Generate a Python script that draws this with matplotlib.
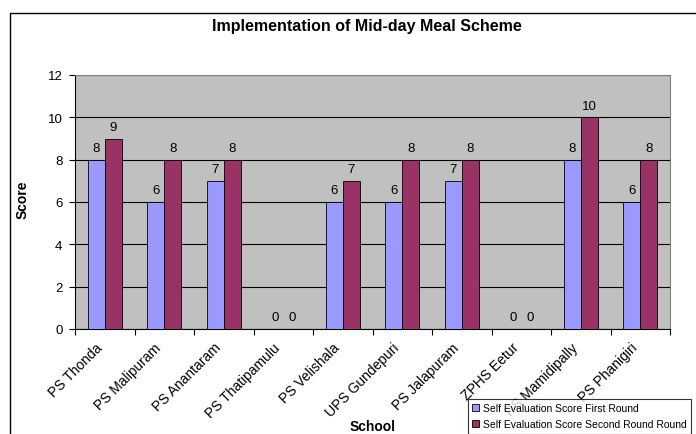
import matplotlib
matplotlib.use("Agg")
import matplotlib.pyplot as plt
import matplotlib.patches as mpatches
import matplotlib.transforms as mtransforms
import numpy as np

plt.rcParams['font.family'] = ['Liberation Sans', 'DejaVu Sans']

schools = ["PS Thonda", "PS Malipuram", "PS Anantaram", "PS Thatipamulu", "PS Velishala",
           "UPS Gundepuri", "PS Jalapuram", "ZPHS Eetur", "PS Mamidipally", "PS Phanigiri"]
first_round = [8, 6, 7, 0, 6, 6, 7, 0, 8, 6]
second_round = [9, 8, 8, 0, 7, 8, 8, 0, 10, 8]
series_names = ["Self Evaluation Score First Round", "Self Evaluation Score Second Round Round"]
yticks = [0, 2, 4, 6, 8, 10, 12]

W, H = 696, 435
fig = plt.figure(figsize=(W / 100, H / 100), dpi=100)

# outer chart frame
fig.patches.append(mpatches.Rectangle((10 / W, -0.1), 1.0, 1 - 14 / H + 0.1, transform=fig.transFigure,
                                      fill=False, edgecolor='black', linewidth=1.0, clip_on=False))

ax = fig.add_axes([75 / W, 1 - 330 / H, (670 - 75) / W, (330 - 76) / H])
ax.set_facecolor('#C0C0C0')

x = np.arange(len(schools))
w = 0.2857
b1 = ax.bar(x - w / 2, first_round, w, color='#9999FF', edgecolor='black', linewidth=0.6,
            label=series_names[0], zorder=3)
b2 = ax.bar(x + w / 2, second_round, w, color='#993366', edgecolor='black', linewidth=0.6,
            label=series_names[1], zorder=3)

for bars, vals in ((b1, first_round), (b2, second_round)):
    for r, v in zip(bars, vals):
        ax.annotate(str(v), (r.get_x() + r.get_width() / 2, v), xytext=(0, 4),
                    textcoords='offset points', ha='center', va='bottom', fontsize=9.5)

ax.set_xlim(-0.5, len(schools) - 0.5)
ax.set_ylim(0, 12)
ax.set_yticks(yticks)
ax.yaxis.grid(True, color='black', linewidth=0.8, zorder=0)
ax.set_axisbelow(True)
ax.set_xticks(np.arange(-0.5, len(schools), 1.0))
ax.set_xticklabels([])
ax.tick_params(axis='x', length=4, direction='out')
ax.tick_params(axis='y', length=4, direction='out', labelsize=9.5, pad=5)

# category labels, rotated
lab_tr = ax.get_xaxis_transform() + mtransforms.ScaledTranslation(-5 / 100, -16 / 100, fig.dpi_scale_trans)
for xi, name in zip(x, schools):
    ax.text(xi, 0, name, transform=lab_tr, rotation=45, ha='right', va='center',
            rotation_mode='anchor', fontsize=10, clip_on=False)

for s in ['top', 'right']:
    ax.spines[s].set_color('#808080')
for s in ['left', 'bottom']:
    ax.spines[s].set_color('black')

fig.text(367 / W, 1 - 27 / H, "Implementation of Mid-day Meal Scheme", ha='center', va='center',
         fontsize=11.5, fontweight='bold')
fig.text(23 / W, 1 - 200 / H, "Score", rotation=90, ha='center', va='center', fontsize=10, fontweight='bold')
fig.text(373 / W, 1 - 427 / H, "School", ha='center', va='center', fontsize=10, fontweight='bold')

leg = fig.legend(handles=[b1, b2], loc='upper left', bbox_to_anchor=(468 / W, 1 - 400 / H),
                 fontsize=7.5, frameon=True, fancybox=False, edgecolor='black',
                 handlelength=0.7, handleheight=0.7, handletextpad=0.3, borderpad=0.4,
                 labelspacing=0.6, borderaxespad=0)
leg.get_frame().set_linewidth(0.8)
leg.set_zorder(10)

fig.savefig("out.png", dpi=100)
